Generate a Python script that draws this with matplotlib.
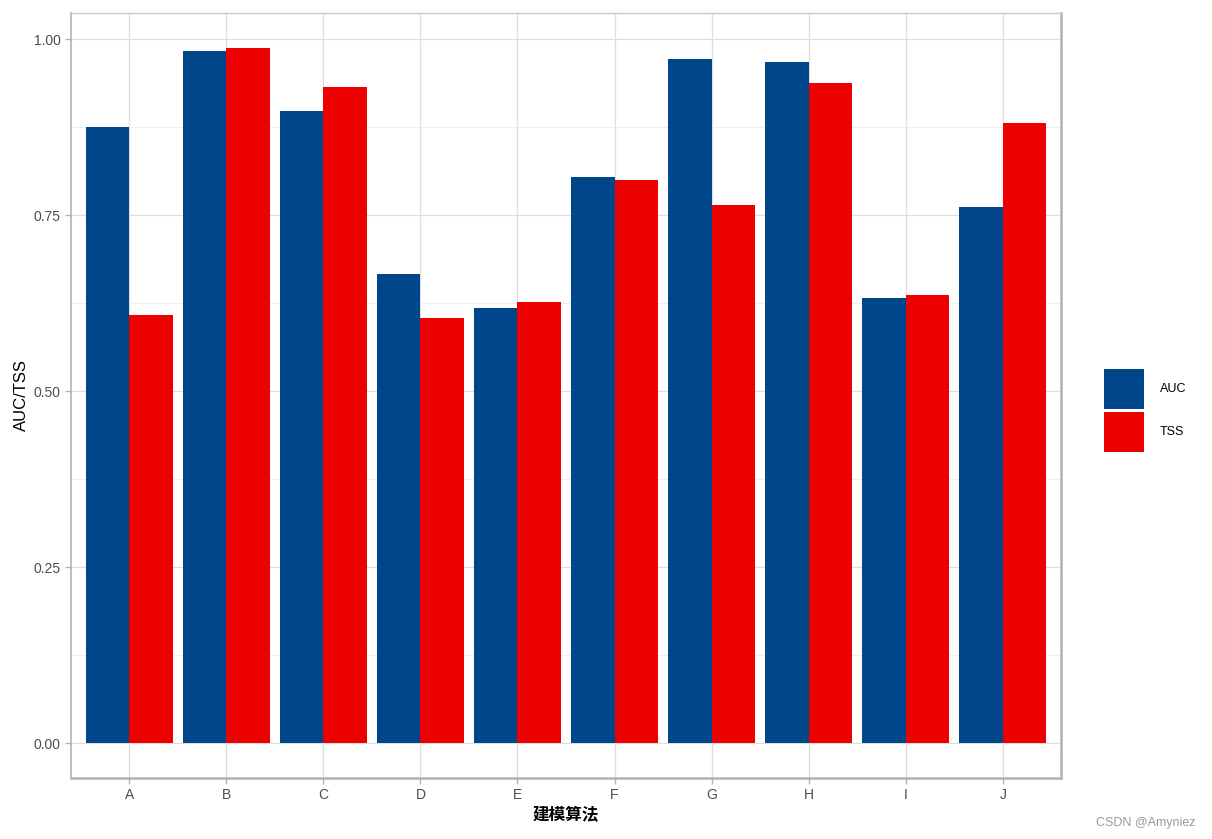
import numpy as np
import matplotlib
matplotlib.use("Agg")
from matplotlib import pyplot as plt
from matplotlib.patches import Patch

plt.rcParams['font.family'] = ['Liberation Sans', 'Noto Sans CJK SC', 'DejaVu Sans']

# 建模算法 and their scores
algos = ['A', 'B', 'C', 'D', 'E', 'F', 'G', 'H', 'I', 'J']
auc = [0.875, 0.983, 0.898, 0.666, 0.618, 0.804, 0.972, 0.967, 0.632, 0.761]
tss = [0.608, 0.987, 0.932, 0.604, 0.626, 0.800, 0.764, 0.9375, 0.636, 0.881]
series_names = ['AUC', 'TSS']
colors = ['#00468B', '#ED0000']

fig = plt.figure(figsize=(12.12, 8.39), dpi=100)
ax = fig.add_axes([71 / 1212, 1 - 778 / 839, 990 / 1212, 765 / 839])

x = np.arange(1, len(algos) + 1)
w = 0.45
ax.bar(x - w / 2, auc, width=w, color=colors[0], zorder=3)
ax.bar(x + w / 2, tss, width=w, color=colors[1], zorder=3)

ax.set_xlim(0.4, 10.6)
ax.set_ylim(-0.0494, 1.037)
ax.set_xticks(x)
ax.set_xticklabels(algos)
ax.set_yticks([0, 0.25, 0.5, 0.75, 1.0])
ax.set_yticklabels(['0.00', '0.25', '0.50', '0.75', '1.00'])
ax.set_yticks([0.125, 0.375, 0.625, 0.875], minor=True)

ax.grid(True, which='major', color='#DEDEDE', linewidth=0.9, zorder=0)
ax.grid(True, which='minor', axis='y', color='#EDEDED', linewidth=0.6, zorder=0)
ax.tick_params(which='major', colors='#B3B3B3', labelcolor='#4D4D4D', labelsize=10, length=4, width=1)
ax.tick_params(which='minor', length=0)

for side in ['bottom', 'right']:
    ax.spines[side].set_color('#B3B3B3')
    ax.spines[side].set_linewidth(1.8)
ax.spines['left'].set_color('#B3B3B3')
ax.spines['left'].set_linewidth(1.2)
ax.spines['top'].set_color('#C8C8C8')
ax.spines['top'].set_linewidth(1.0)

ax.set_xlabel('建模算法', fontsize=12, fontweight='bold', labelpad=3)
ax.set_ylabel('AUC/TSS', fontsize=12, labelpad=3)

handles = [Patch(facecolor=c, label=n) for c, n in zip(colors, series_names)]
fig.legend(handles=handles, loc='center left', bbox_to_anchor=(1104 / 1212, 1 - 410.5 / 839),
           frameon=False, handlelength=3.2, handleheight=4.55, handletextpad=1.28,
           labelspacing=0.22, fontsize=9, borderpad=0, borderaxespad=0)

fig.text(1196 / 1212, 1 - 823 / 839, 'CSDN @Amyniez', ha='right', va='center',
         fontsize=9, color='#9A9A9A')

fig.savefig('out.png', dpi=100)
